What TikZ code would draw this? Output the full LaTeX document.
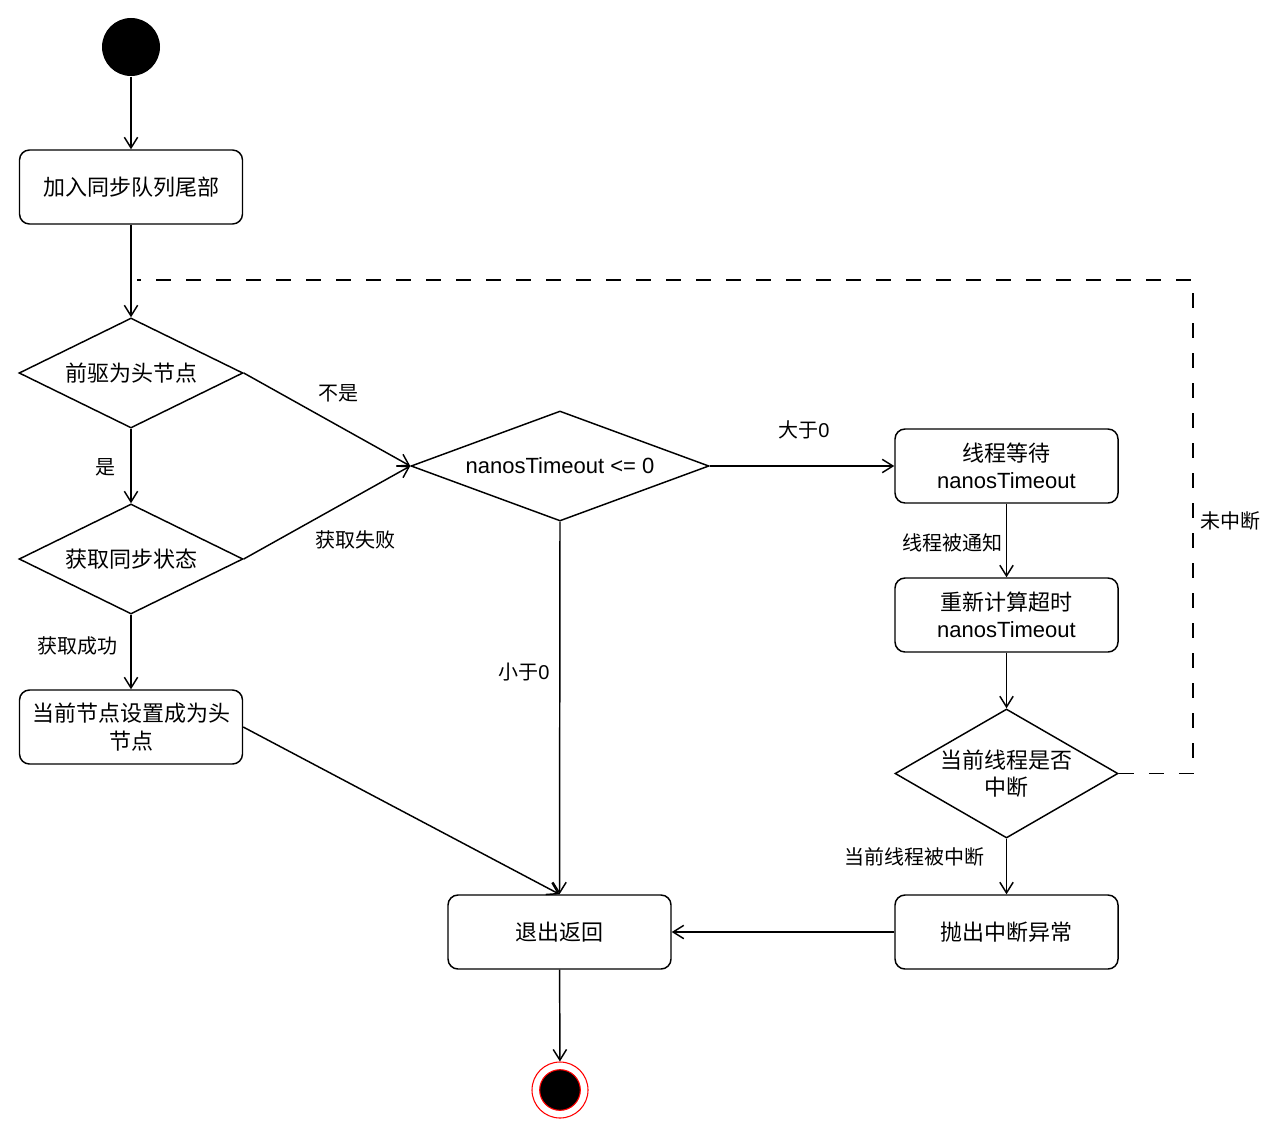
\documentclass[tikz,border=0pt]{standalone}
\usepackage{fontspec}
\setmainfont{Liberation Sans}
\newfontfamily\cjkfont{Noto Sans CJK SC}
\newcommand\zhtext[1]{{\cjkfont #1}}
\usetikzlibrary{arrows.meta,shapes.geometric}
\begin{document}
\begin{tikzpicture}[x=0.75pt,y=-0.75pt, line width=1.1pt,
  nodefont/.style={font=\fontsize{16.5}{20.5}\selectfont},
  box/.style={draw, rounded corners=7.5pt, minimum width=167.25pt, minimum height=55.5pt, inner sep=0pt, align=center, nodefont},
  dia/.style={draw, diamond, inner sep=0pt, align=center, nodefont},
  arr/.style={-{Straight Barb[length=8pt,width=10pt]}},
  lbl/.style={font=\fontsize{15}{18}\selectfont, inner sep=0pt},
  dashline/.style={dash pattern=on 11.25pt off 11.25pt}]
\useasboundingbox (0,0) rectangle (1280,1138);

% start / end
\node[circle, fill=black, minimum size=43.5pt, inner sep=0pt] (start) at (131,47) {};
\node[circle, draw=red, line width=0.8pt, minimum size=42pt, inner sep=0pt] (endo) at (560,1090) {};
\node[circle, fill=black, draw=red, line width=0.8pt, minimum size=30.5pt, inner sep=0pt] (endi) at (560,1090) {};

% boxes
\node[box] (b1) at (131,187) {\zhtext{加入同步队列尾部}};
\node[box] (b2) at (131,727) {\zhtext{当前节点设置成为头}\\\zhtext{节点}};
\node[box] (bwait) at (1006.5,466) {\zhtext{线程等待}\\nanosTimeout};
\node[box] (brecalc) at (1006.5,615) {\zhtext{重新计算超时}\\nanosTimeout};
\node[box] (bthrow) at (1006.5,932) {\zhtext{抛出中断异常}};
\node[box] (bexit) at (559.5,932) {\zhtext{退出返回}};

% diamonds
\node[dia, minimum width=168pt, minimum height=82.5pt, aspect=2.04] (d1) at (131,373) {\zhtext{前驱为头节点}};
\node[dia, minimum width=168pt, minimum height=82.5pt, aspect=2.04] (d2) at (131,559) {\zhtext{获取同步状态}};
\node[dia, minimum width=223.5pt, minimum height=82.5pt, aspect=2.71] (d3) at (560,466) {nanosTimeout <= 0};
\node[dia, minimum width=167.25pt, minimum height=96.75pt, aspect=1.73] (d4) at (1006.5,773.5) {\zhtext{当前线程是否}\\\zhtext{中断}};

% connectors
\draw[arr] (start) -- (b1);
\draw[arr] (b1) -- (d1);
\draw[arr] (d1.east) -- (d3.west) node[lbl] (l1) at (338,393) {\zhtext{不是}};
\draw[arr] (d1.south) -- (d2.north) node[lbl] (l2) at (105,467) {\zhtext{是}};
\draw[arr] (d2.east) -- (d3.west) node[lbl] (l3) at (355,540) {\zhtext{获取失败}};
\draw[arr] (d2.south) -- (b2.north) node[lbl] (l4) at (77,646) {\zhtext{获取成功}};
\draw[arr] (b2.east) -- (bexit.north);
\draw[arr] (d3.south) -- (bexit.north) node[lbl] (l5) at (524,672) {\zhtext{小于}0};
\draw[arr] (d3.east) -- (bwait.west) node[lbl] (l6) at (804,430) {\zhtext{大于}0};
\draw[arr] (bwait) -- (brecalc) node[lbl] (l7) at (952,543) {\zhtext{线程被通知}};
\draw[arr] (brecalc) -- (d4);
\draw[arr] (d4.south) -- (bthrow.north) node[lbl] (l8) at (914,857) {\zhtext{当前线程被中断}};
\draw[arr] (bthrow) -- (bexit);
\draw[arr] (bexit) -- (endo);

\coordinate (dcorner) at (1193,773.5);
\coordinate (dashend) at (137,280);
\draw[dashline] (d4.east) -- (dcorner) |- (dashend);
\node[lbl] (l9) at (1230,521) {\zhtext{未中断}};
\end{tikzpicture}
\end{document}
